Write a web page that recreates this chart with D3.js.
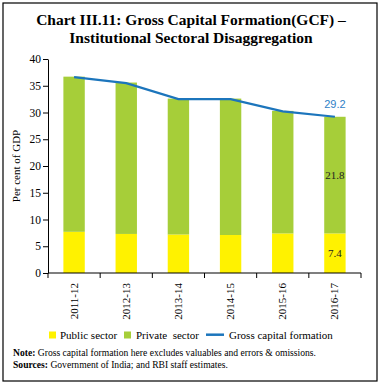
<!DOCTYPE html>
<html><head><meta charset="utf-8">
<script src="https://cdn.jsdelivr.net/npm/d3@7"></script>
<style>
body{margin:0;background:#fff;}
svg{display:block;font-family:"Liberation Serif",serif;}
</style></head>
<body><svg id="c" width="382" height="383"></svg>
<script>
const years = ["2011-12","2012-13","2013-14","2014-15","2015-16","2016-17"];
const publicSector = [7.7, 7.3, 7.2, 7.1, 7.4, 7.4];
const privateSector = [29.0, 28.3, 25.4, 25.5, 22.9, 21.8];
const gcf = [36.6, 35.5, 32.5, 32.5, 30.2, 29.2];
const yTicks = [0,5,10,15,20,25,30,35,40];

const svg = d3.select("#c");
svg.append("rect").attr("x",3).attr("y",3).attr("width",374).attr("height",378)
  .attr("fill","none").attr("stroke","#000").attr("stroke-width",1.2);

svg.append("text").attr("x",191).attr("y",25).attr("text-anchor","middle")
  .attr("font-weight","bold").attr("font-size",15.5).text("Chart III.11: Gross Capital Formation(GCF) –");
svg.append("text").attr("x",191).attr("y",43).attr("text-anchor","middle")
  .attr("font-weight","bold").attr("font-size",15.5).text("Institutional Sectoral Disaggregation");

const m = {l:48, r:361, t:59, b:273};
const x = d3.scaleBand().domain(years).range([m.l, m.r]).paddingInner(0.59).paddingOuter(0.295);
const y = d3.scaleLinear().domain([0,40]).range([m.b, m.t]);

const g = svg.append("g");
g.selectAll(".pub").data(years).join("rect")
  .attr("x", d=>x(d)).attr("width", x.bandwidth())
  .attr("y", (d,i)=>y(publicSector[i])).attr("height",(d,i)=>y(0)-y(publicSector[i]))
  .attr("fill","#FFF200");
g.selectAll(".pri").data(years).join("rect")
  .attr("x", d=>x(d)).attr("width", x.bandwidth())
  .attr("y", (d,i)=>y(publicSector[i]+privateSector[i])).attr("height",(d,i)=>y(publicSector[i])-y(publicSector[i]+privateSector[i]))
  .attr("fill","#A6CE39");

const line = d3.line().x((d,i)=>x(years[i])+x.bandwidth()/2).y(d=>y(d));
g.append("path").datum(gcf).attr("d",line).attr("fill","none").attr("stroke","#1C75BC").attr("stroke-width",2.2);

const ya = d3.axisLeft(y).tickValues(yTicks).tickSize(5).tickSizeOuter(0).tickPadding(2);
const yg = svg.append("g").attr("transform",`translate(${m.l},0)`).call(ya);
yg.select(".domain").attr("stroke","#000");
yg.selectAll("text").attr("font-size",11.5).attr("font-family","Liberation Serif");
const xb = d3.scaleLinear().domain([0,years.length]).range([m.l,m.r]);
const xg = svg.append("g").attr("transform",`translate(0,${m.b})`);
xg.append("line").attr("x1",m.l).attr("x2",m.r).attr("stroke","#000").attr("stroke-width",1.2);
xg.selectAll(".tk").data(d3.range(years.length+1)).join("line")
  .attr("x1",d=>xb(d)).attr("x2",d=>xb(d)).attr("y1",0).attr("y2",5).attr("stroke","#000");
xg.selectAll(".lb").data(years).join("text")
  .attr("transform",d=>`translate(${x(d)+x.bandwidth()/2+3.5},10) rotate(-90)`)
  .attr("text-anchor","end").attr("font-size",11).text(d=>d);

svg.append("text").attr("transform",`translate(20,${(m.t+m.b)/2}) rotate(-90)`)
  .attr("text-anchor","middle").attr("font-size",11).text("Per cent of GDP");

const last = years.length-1, cx = x(years[last])+x.bandwidth()/2;
svg.append("text").attr("x",cx).attr("y",y(gcf[last])-9).attr("text-anchor","middle")
  .attr("font-size",11).attr("fill","#2F80C6").attr("font-family","Liberation Sans").text(gcf[last].toFixed(1));
svg.append("text").attr("x",cx).attr("y",y(publicSector[last]+privateSector[last]/2)+4).attr("text-anchor","middle")
  .attr("font-size",11).attr("fill","#222").text(privateSector[last].toFixed(1));
svg.append("text").attr("x",cx).attr("y",y(publicSector[last]/2)+4).attr("text-anchor","middle")
  .attr("font-size",11).attr("fill","#222").text(publicSector[last].toFixed(1));

const lg = svg.append("g").attr("font-size",11);
lg.append("rect").attr("x",49).attr("y",331.5).attr("width",7).attr("height",7).attr("fill","#FFF200");
lg.append("text").attr("x",60).attr("y",338.5).text("Public sector");
lg.append("rect").attr("x",124).attr("y",331.5).attr("width",7).attr("height",7).attr("fill","#A6CE39");
lg.append("text").attr("x",136).attr("y",338.5).attr("xml:space","preserve").text("Private  sector");
lg.append("line").attr("x1",206).attr("x2",224).attr("y1",334.7).attr("y2",334.7).attr("stroke","#1C75BC").attr("stroke-width",2.5);
lg.append("text").attr("x",229).attr("y",338.5).text("Gross capital formation");

const nt = svg.append("text").attr("x",13).attr("y",356).attr("font-size",9.6);
nt.append("tspan").attr("font-weight","bold").text("Note:");
nt.append("tspan").text(" Gross capital formation here excludes valuables and errors & omissions.");
const st = svg.append("text").attr("x",13).attr("y",368).attr("font-size",9.6);
st.append("tspan").attr("font-weight","bold").text("Sources:");
st.append("tspan").text(" Government of India; and RBI staff estimates.");
</script></body></html>
